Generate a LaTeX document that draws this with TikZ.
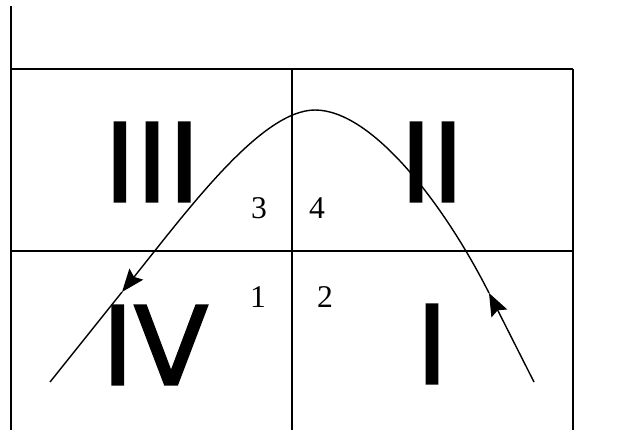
\documentclass[tikz,border=0pt]{standalone}
\usepackage{fontspec}
\usepackage{tikz}
\usetikzlibrary{arrows.meta}
\newfontfamily\romanfont[FakeBold=1.8]{DejaVu Sans}
\newfontfamily\digitfont{Liberation Serif}
\tikzset{
  gridline/.style={line width=1.1pt},
  flowline/.style={line width=0.8pt},
  flowarrow/.style={flowline,-{Stealth[length=13pt,width=10pt,inset=2pt]}},
  regionlabel/.style={inner sep=0pt,font=\romanfont\fontsize{62}{62}\selectfont},
  cornerlabel/.style={inner sep=0pt,font=\digitfont\fontsize{18}{18}\selectfont}
}
\begin{document}
\begin{tikzpicture}[x=0.02cm,y=-0.02cm]
\useasboundingbox (0,0) rectangle (625,430);
\def\xl{11}
\def\xm{292}
\def\xr{573}
\def\yt{69}
\def\ym{251}
\def\yb{430}
% frame
\draw[gridline] (\xl,6) -- (\xl,\yb);
\foreach \y in {\yt,\ym} {
  \draw[gridline] (\xl,\y) -- (\xr,\y);
}
\foreach \x in {\xm,\xr} {
  \draw[gridline] (\x,\yt) -- (\x,\yb);
}
% regions
\node[regionlabel] (r3) at (152,162) {III};
\node[regionlabel] (r2) at (432,162) {II};
\node[regionlabel] (r4) at (155,345) {IV};
\node[regionlabel] (r1) at (432,344) {I};
% corner numbers
\foreach \n/\x/\y in {3/259/208,4/317/208,1/258/297,2/325/297} {
  \node[cornerlabel] (c\n) at (\x,\y) {\n};
}
% curve
\coordinate (start) at (534,382);
\coordinate (upper) at (489,293);
\coordinate (peak) at (315,110);
\coordinate (lower) at (122,292);
\coordinate (stop) at (50,382);
\draw[flowarrow] (start) -- (upper);
\draw[flowarrow] (upper) .. controls (444,204) and (372,110) .. (peak)
  .. controls (262,110) and (190,207) .. (lower);
\draw[flowline] (lower) -- (stop);
\end{tikzpicture}
\end{document}
